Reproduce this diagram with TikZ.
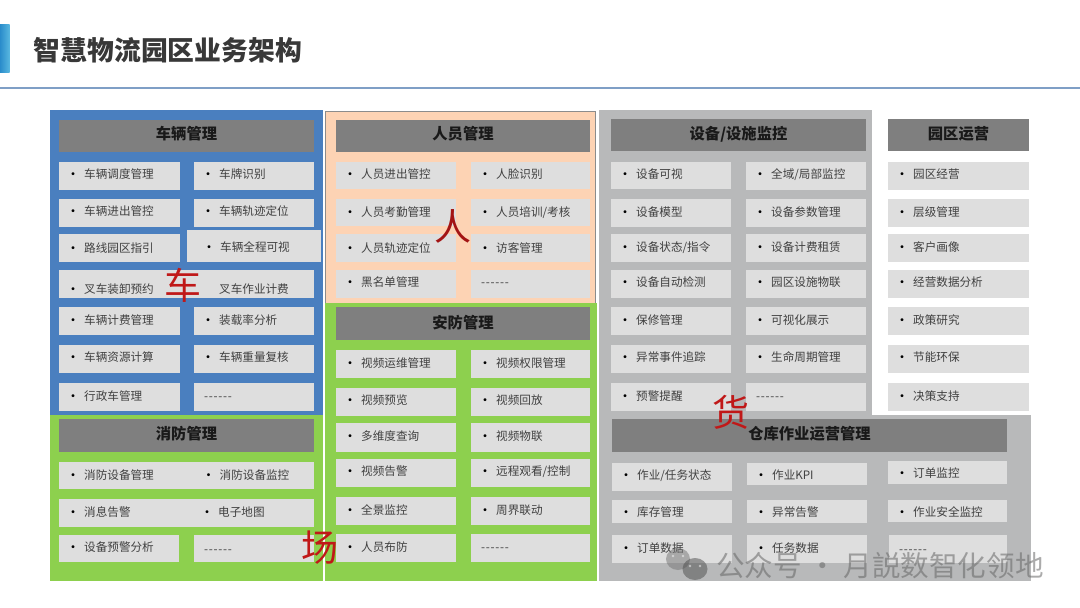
\documentclass[tikz,border=0pt]{standalone}
\usepackage{fontspec}
\setmainfont{Noto Sans CJK SC}
\definecolor{cBlue}{HTML}{4A7FBF}
\definecolor{cGreen}{HTML}{8DD04E}
\definecolor{cPeach}{HTML}{FDD3B4}
\definecolor{cGrey}{HTML}{B8B9BA}
\definecolor{cHead}{HTML}{7F7F7F}
\definecolor{cItem}{HTML}{DEDEDE}
\definecolor{cText}{HTML}{404040}
\definecolor{cHand}{HTML}{C01818}
\definecolor{cRule}{HTML}{7F9FC6}
\newcount\nodeno
\tikzset{
  panelbox/.style={draw=#1,fill=#1,line width=.6pt,anchor=north west,inner sep=0pt},
  headbox/.style={fill=cHead,anchor=north west,inner sep=0pt},
  headtext/.style={inner sep=0pt,text=black!90,font=\fontsize{15.3}{18}\selectfont\bfseries},
  itembox/.style={fill=cItem,anchor=north west,inner sep=0pt},
  itemlabel/.style={anchor=west,inner sep=0pt,text=cText,font=\fontsize{11.6}{14}\selectfont},
  handchar/.style={text=cHand,inner sep=0pt,font=\fontsize{37}{40}\selectfont},
  wmark/.style={text=black!60,opacity=.55,anchor=west,inner sep=0pt,font=\fontsize{28.6}{32}\selectfont}
}
\newcommand{\nextid}{\global\advance\nodeno by 1 }
\newcommand{\bulletmark}{\makebox[18pt][l]{\raisebox{-.9pt}{\textcolor{black}{\fontsize{14}{14}\selectfont •}}}}
\newcommand{\dashrun}{{-}\kern.7pt{-}\kern.7pt{-}\kern.7pt{-}\kern.7pt{-}\kern.7pt{-}}
% x1 y1 x2 y2 colour
\newcommand{\panelat}[5]{\nextid
  \pgfmathsetmacro{\boxw}{#3-#1}\pgfmathsetmacro{\boxh}{#4-#2}
  \node[panelbox=#5,minimum width=\boxw pt,minimum height=\boxh pt] (n\the\nodeno) at (#1,#2) {};}
% [c] x1 y1 x2 y2 text : c = how far the text sits above the middle of the box
\newcommand{\headat}[6][2.5]{\nextid
  \pgfmathsetmacro{\boxw}{#4-#2}\pgfmathsetmacro{\boxh}{#5-#3}
  \pgfmathsetmacro{\tx}{(#2+#4)/2}\pgfmathsetmacro{\ty}{(#3+#5)/2-#1+2.2}
  \node[headbox,minimum width=\boxw pt,minimum height=\boxh pt] (n\the\nodeno) at (#2,#3) {};
  \node[headtext] (t\the\nodeno) at (\tx,\ty) {\strut #6};}
\newcommand{\boxonly}[4]{\nextid
  \pgfmathsetmacro{\boxw}{#3-#1}\pgfmathsetmacro{\boxh}{#4-#2}
  \node[itembox,minimum width=\boxw pt,minimum height=\boxh pt] (n\the\nodeno) at (#1,#2) {};}
\newcommand{\itm}[6][2.5]{\boxonly{#2}{#3}{#4}{#5}
  \pgfmathsetmacro{\tx}{#2+7}\pgfmathsetmacro{\ty}{(#3+#5)/2-#1+2.4}
  \node[itemlabel] (t\the\nodeno) at (\tx,\ty) {\strut\bulletmark{}#6};}
% a box holding only a dash run
\newcommand{\dashitem}[5][2.5]{\boxonly{#2}{#3}{#4}{#5}
  \pgfmathsetmacro{\tx}{#2+10}\pgfmathsetmacro{\ty}{(#3+#5)/2-#1+2.4}
  \node[itemlabel] (t\the\nodeno) at (\tx,\ty) {\strut\dashrun};}
% text written straight on a wide box: x ymiddle text
\newcommand{\lbl}[3]{\nextid
  \node[itemlabel] (t\the\nodeno) at (#1,#2) {\strut{}#3};}
\begin{document}
\begin{tikzpicture}[x=1pt,y=-1pt]
\useasboundingbox (0,0) rectangle (1080,608);
\fill[white] (0,0) rectangle (1080,608);
% title band
\definecolor{cBarA}{HTML}{2A8CCB}
\definecolor{cBarB}{HTML}{58B7E0}
\shade[left color=cBarA,right color=cBarB] (0,24) rectangle (9.5,72);
\draw[cRule,line width=1.2pt] (0,88) -- (1080,88);
\node[anchor=west,inner sep=0pt,text=black!78,font=\fontsize{26.8}{30}\selectfont\bfseries] (title) at (33.8,50) {智慧物流园区业务架构};

% panels
\panelat{50}{110}{322}{415}{cBlue}
\panelat{50}{415}{322}{580}{cGreen}
\panelat{325}{111}{595}{303}{cPeach}
\draw[black!45,line width=.7pt] (n3.north west) rectangle (n3.south east);
\panelat{325}{303}{596}{580}{cGreen}
\panelat{599}{110}{871}{415}{cGrey}
\panelat{599}{415}{1030}{580}{cGrey}

% headers
\headat[3]{59}{120}{314}{152}{车辆管理}
\headat[2.5]{59}{419}{314}{452}{消防管理}
\headat[3]{336}{120}{590}{152}{人员管理}
\headat[1.5]{336}{307}{590}{340}{安防管理}
\headat[2]{611}{119}{866}{151}{设备/设施监控}
\headat[2]{888}{119}{1029}{151}{园区运营}
\headat[2.5]{612}{419}{1007}{452}{仓库作业运营管理}

% vehicles
\itm[3]{59}{162}{180}{190}{车辆调度管理}\itm[3]{194}{162}{314}{190}{车牌识别}
\itm[3]{59}{199}{180}{227}{车辆进出管控}\itm[3]{194}{199}{314}{227}{车辆轨迹定位}
\itm[1]{59}{234}{180}{262}{路线园区指引}\boxonly{187}{230}{321}{262}\lbl{202}{248.4}{\bulletmark{}车辆全程可视}
\itm[-4]{59}{270}{314}{298}{叉车装卸预约}\lbl{219}{290.4}{叉车作业计费}
\itm[2]{59}{307}{180}{335}{车辆计费管理}\itm[2]{194}{307}{314}{335}{装载率分析}
\itm[3]{59}{345}{180}{373}{车辆资源计算}\itm[3]{194}{345}{314}{373}{车辆重量复核}
\itm[2]{59}{383}{180}{411}{行政车管理}\dashitem[2]{194}{383}{314}{411}
% fire
\itm[1.5]{59}{462}{314}{489}{消防设备管理}\lbl{201.5}{476.4}{\bulletmark{}消防设备监控}
\itm[2]{59}{499}{314}{527}{消息告警}\lbl{200}{513.4}{\bulletmark{}电子地图}
\itm[2.5]{59}{535}{179}{562}{设备预警分析}\dashitem[0.5]{194}{535}{314}{562}

% people
\itm[2.5]{336}{162}{456}{189}{人员进出管控}\itm[2.5]{471}{162}{590}{189}{人脸识别}
\itm[1.5]{336}{199}{456}{226}{人员考勤管理}\itm[1.5]{471}{199}{590}{226}{人员培训/考核}
\itm[1]{336}{234}{456}{262}{人员轨迹定位}\itm[1]{471}{234}{590}{262}{访客管理}
\itm[3]{336}{270}{456}{298}{黑名单管理}\dashitem[3]{471}{270}{590}{298}
% security
\itm[2]{336}{350}{456}{378}{视频运维管理}\itm[2]{471}{350}{590}{378}{视频权限管理}
\itm[3]{336}{388}{456}{416}{视频预览}\itm[3]{471}{388}{590}{416}{视频回放}
\itm[2.5]{336}{423}{456}{452}{多维度查询}\itm[2.5]{471}{423}{590}{452}{视频物联}
\itm[3]{336}{459}{456}{487}{视频告警}\itm[3]{471}{459}{590}{487}{远程观看/控制}
\itm[2]{336}{497}{456}{525}{全景监控}\itm[2]{471}{497}{590}{525}{周界联动}
\itm[2]{336}{534}{456}{562}{人员布防}\dashitem[2]{471}{534}{590}{562}
% equipment
\itm[2.5]{611}{162}{731}{189}{设备可视}\itm[3]{746}{162}{866}{190}{全域/局部监控}
\itm[2]{611}{199}{731}{227}{设备模型}\itm[2]{746}{199}{866}{227}{设备参数管理}
\itm[2]{611}{234}{731}{262}{设备状态/指令}\itm[2]{746}{234}{866}{262}{设备计费租赁}
\itm[3]{611}{270}{731}{298}{设备自动检测}\itm[3]{746}{270}{866}{298}{园区设施物联}
\itm[2]{611}{307}{731}{335}{保修管理}\itm[2]{746}{307}{866}{335}{可视化展示}
\itm[3]{611}{345}{731}{373}{异常事件追踪}\itm[3]{746}{345}{866}{373}{生命周期管理}
\itm[2]{611}{383}{731}{411}{预警提醒}\dashitem[2]{746}{383}{866}{411}
% park
\itm[3]{888}{162}{1029}{190}{园区经营}
\itm[2]{888}{199}{1029}{227}{层级管理}
\itm[2]{888}{234}{1029}{262}{客户画像}
\itm[3]{888}{270}{1029}{298}{经营数据分析}
\itm[2]{888}{307}{1029}{335}{政策研究}
\itm[3]{888}{345}{1029}{373}{节能环保}
\itm[2]{888}{383}{1029}{411}{决策支持}
% warehouse
\itm[3]{612}{463}{732}{491}{作业/任务状态}\itm[0]{747}{463}{867}{485}{作业KPI}\itm[0]{888}{461}{1007}{484}{订单监控}
\itm[0]{612}{500}{732}{523}{库存管理}\itm[0]{747}{500}{867}{523}{异常告警}\itm[0]{888}{500}{1007}{522}{作业安全监控}
\itm[2]{612}{535}{732}{563}{订单数据}\itm[2]{747}{535}{867}{563}{任务数据}\dashitem[1]{889}{535}{1007}{563}

% handwritten
\node[handchar] (hcar) at (183,285) {车};
\node[handchar,text=cHand!85!black] (hman) at (453,226) {人};
\node[handchar] (hgoods) at (731,412) {货};
\node[handchar] (hsite) at (320,548) {场};

% watermark
\begin{scope}[opacity=.5]
 \fill[black!55] (678,559) ellipse (12 and 11);
 \fill[black!70] (695,569) ellipse (12.5 and 11);
 \fill[white] (673,556) circle (1.4) (683,556) circle (1.4) (690,566) circle (1.3) (700,566) circle (1.3);
\end{scope}
\node[wmark] (wm) at (716,566) {公众号 · 月説数智化领地};
\end{tikzpicture}
\end{document}
